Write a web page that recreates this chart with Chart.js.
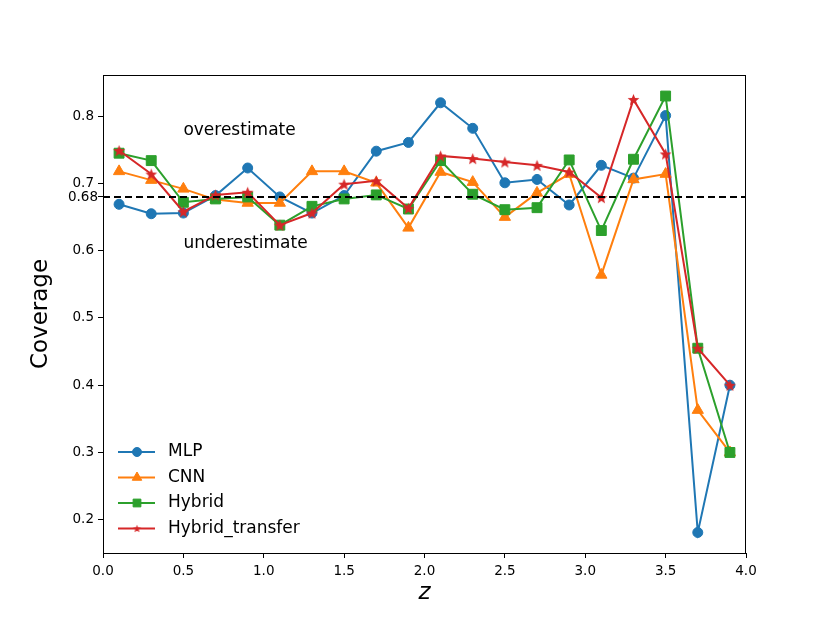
<!DOCTYPE html>
<html>
<head>
<meta charset="utf-8">
<script src="https://cdn.jsdelivr.net/npm/chart.js@4.4.0/dist/chart.umd.min.js"></script>
<style>
  html, body { margin: 0; padding: 0; background: #ffffff; }
  canvas { display: block; }
</style>
</head>
<body>
<canvas id="chart" width="830" height="623"></canvas>
<script>
// redshift bins (bin centres)
const redshifts = [0.1, 0.3, 0.5, 0.7, 0.9, 1.1, 1.3, 1.5, 1.7, 1.9,
                   2.1, 2.3, 2.5, 2.7, 2.9, 3.1, 3.3, 3.5, 3.7, 3.9];

// coverage per model
const mlpCoverage = [0.669, 0.655, 0.656, 0.682, 0.723, 0.680, 0.656, 0.682, 0.748, 0.761,
                     0.820, 0.782, 0.701, 0.706, 0.668, 0.727, 0.708, 0.801, 0.181, 0.400];
const cnnCoverage = [0.718, 0.705, 0.692, 0.676, 0.671, 0.671, 0.718, 0.718, 0.701, 0.634,
                     0.717, 0.702, 0.650, 0.686, 0.714, 0.564, 0.706, 0.714, 0.363, 0.300];
const hybridCoverage = [0.745, 0.734, 0.672, 0.677, 0.680, 0.638, 0.666, 0.677, 0.683, 0.662,
                        0.734, 0.684, 0.661, 0.664, 0.735, 0.630, 0.736, 0.830, 0.455, 0.300];
const transferCoverage = [0.749, 0.714, 0.658, 0.683, 0.687, 0.638, 0.656, 0.699, 0.704, 0.663,
                          0.741, 0.737, 0.732, 0.727, 0.717, 0.679, 0.825, 0.744, 0.455, 0.400];

const targetCoverage = 0.68;
const yTickValues = [0.2, 0.3, 0.4, 0.5, 0.6, 0.7, 0.8, 0.68];
const seriesNames = ['MLP', 'CNN', 'Hybrid', 'Hybrid_transfer'];

const FONT = "'DejaVu Sans', sans-serif";

// matplotlib-like filled star marker
function makeStar(color, outer, inner) {
  const size = Math.ceil(outer * 2 + 2);
  const c = document.createElement('canvas');
  c.width = size; c.height = size;
  const g = c.getContext('2d');
  g.translate(size / 2, size / 2 + outer * 0.1);
  g.beginPath();
  for (let i = 0; i < 10; i++) {
    const r = i % 2 === 0 ? outer : inner;
    const a = -Math.PI / 2 + i * Math.PI / 5;
    g.lineTo(r * Math.cos(a), r * Math.sin(a));
  }
  g.closePath();
  g.fillStyle = color;
  g.fill();
  return c;
}
const starMarker = makeStar('#d62728', 6.2, 2.7);
const starLegend = makeStar('#d62728', 4.2, 1.8);

function toPoints(values) {
  return redshifts.map((z, i) => ({ x: z, y: values[i] }));
}

function series(label, values, color, style, radius, order) {
  return {
    label: label,
    data: toPoints(values),
    borderColor: color,
    backgroundColor: color,
    borderWidth: 2,
    pointStyle: style,
    pointRadius: radius,
    pointBorderWidth: 1,
    pointBorderColor: color,
    pointBackgroundColor: color,
    order: order,
    tension: 0
  };
}

// smaller markers in the legend, as in the original
const legendMarkers = {
  'MLP': ['circle', 4.5],
  'CNN': ['triangle', 5.5],
  'Hybrid': ['rect', 5.5],
  'Hybrid_transfer': [starLegend, 4]
};

const extras = {
  id: 'extras',
  afterDraw(chart) {
    const ctx = chart.ctx;
    const area = chart.chartArea;
    const xs = chart.scales.x, ys = chart.scales.y;
    ctx.save();
    // axes frame
    ctx.strokeStyle = '#000';
    ctx.lineWidth = 1;
    ctx.strokeRect(area.left + 0.5, area.top + 0.5, area.right - area.left - 1, area.bottom - area.top);

    // 0.68 tick label sits a bit closer to the axis
    ctx.fillStyle = '#000';
    ctx.font = '13.5px ' + FONT;
    ctx.textAlign = 'right';
    ctx.textBaseline = 'middle';
    ctx.fillText('0.68', area.left - 5, ys.getPixelForValue(targetCoverage) + 1);

    // annotations
    ctx.font = '17px ' + FONT;
    ctx.textAlign = 'left';
    ctx.fillText('overestimate', xs.getPixelForValue(0.5), ys.getPixelForValue(0.779));
    ctx.fillText('underestimate', xs.getPixelForValue(0.5), ys.getPixelForValue(0.611));

    // legend in lower left
    const ds = chart.data.datasets.filter(d => seriesNames.includes(d.label));
    let y = area.bottom - 101;
    ds.forEach(d => {
      const x0 = area.left + 15;
      ctx.strokeStyle = d.borderColor;
      ctx.lineWidth = 2;
      ctx.beginPath();
      ctx.moveTo(x0, y);
      ctx.lineTo(x0 + 37, y);
      ctx.stroke();
      ctx.fillStyle = d.backgroundColor;
      ctx.lineWidth = 1;
      const m = legendMarkers[d.label];
      Chart.helpers.drawPoint(ctx, { pointStyle: m[0], radius: m[1], rotation: 0, borderWidth: 1 }, x0 + 19, y);
      ctx.fillStyle = '#000';
      ctx.font = '17px ' + FONT;
      ctx.fillText(d.label, x0 + 50, y);
      y += 25.5;
    });
    ctx.restore();
  }
};

new Chart(document.getElementById('chart'), {
  type: 'line',
  data: {
    datasets: [
      series(seriesNames[0], mlpCoverage, '#1f77b4', 'circle', 5, 4),
      series(seriesNames[1], cnnCoverage, '#ff7f0e', 'triangle', 6.5, 3),
      series(seriesNames[2], hybridCoverage, '#2ca02c', 'rect', 7, 2),
      series(seriesNames[3], transferCoverage, '#d62728', starMarker, 6, 1),
      {
        label: 'target',
        data: [{ x: 0, y: targetCoverage }, { x: 4, y: targetCoverage }],
        borderColor: '#000',
        borderWidth: 2,
        borderDash: [7, 4],
        pointRadius: 0,
        order: 0
      }
    ]
  },
  options: {
    responsive: false,
    animation: false,
    devicePixelRatio: 1,
    layout: { padding: { top: 75, right: 84, left: 0, bottom: 0 } },
    plugins: {
      legend: { display: false },
      tooltip: { enabled: false }
    },
    scales: {
      x: {
        type: 'linear',
        min: 0, max: 4,
        afterFit: s => { s.height = 70; },
        ticks: {
          stepSize: 0.5,
          color: '#000',
          font: { family: FONT, size: 13.5 },
          padding: 5,
          maxRotation: 0,
          callback: v => Number(v).toFixed(1)
        },
        grid: { drawOnChartArea: false, drawTicks: true, tickLength: 5, color: '#000' },
        border: { display: true, color: '#000', width: 1 },
        title: {
          display: true,
          text: 'z',
          color: '#000',
          font: { family: FONT, size: 23, style: 'italic' },
          padding: { top: 0, bottom: 16 }
        }
      },
      y: {
        type: 'linear',
        min: 0.1505, max: 0.8613,
        afterFit: s => { s.width = 103; },
        afterBuildTicks: s => { s.ticks = yTickValues.map(v => ({ value: v })); },
        ticks: {
          color: '#000',
          font: { family: FONT, size: 13.5 },
          padding: 4,
          callback: v => (Math.abs(v - targetCoverage) < 1e-6 ? '' : Number(v).toFixed(1))
        },
        grid: { drawOnChartArea: false, drawTicks: true, tickLength: 5, color: '#000' },
        border: { display: true, color: '#000', width: 1 },
        title: {
          display: true,
          text: 'Coverage',
          color: '#000',
          font: { family: FONT, size: 23 },
          padding: { top: 27, bottom: 0 }
        }
      }
    }
  },
  plugins: [extras]
});
</script>
</body>
</html>
